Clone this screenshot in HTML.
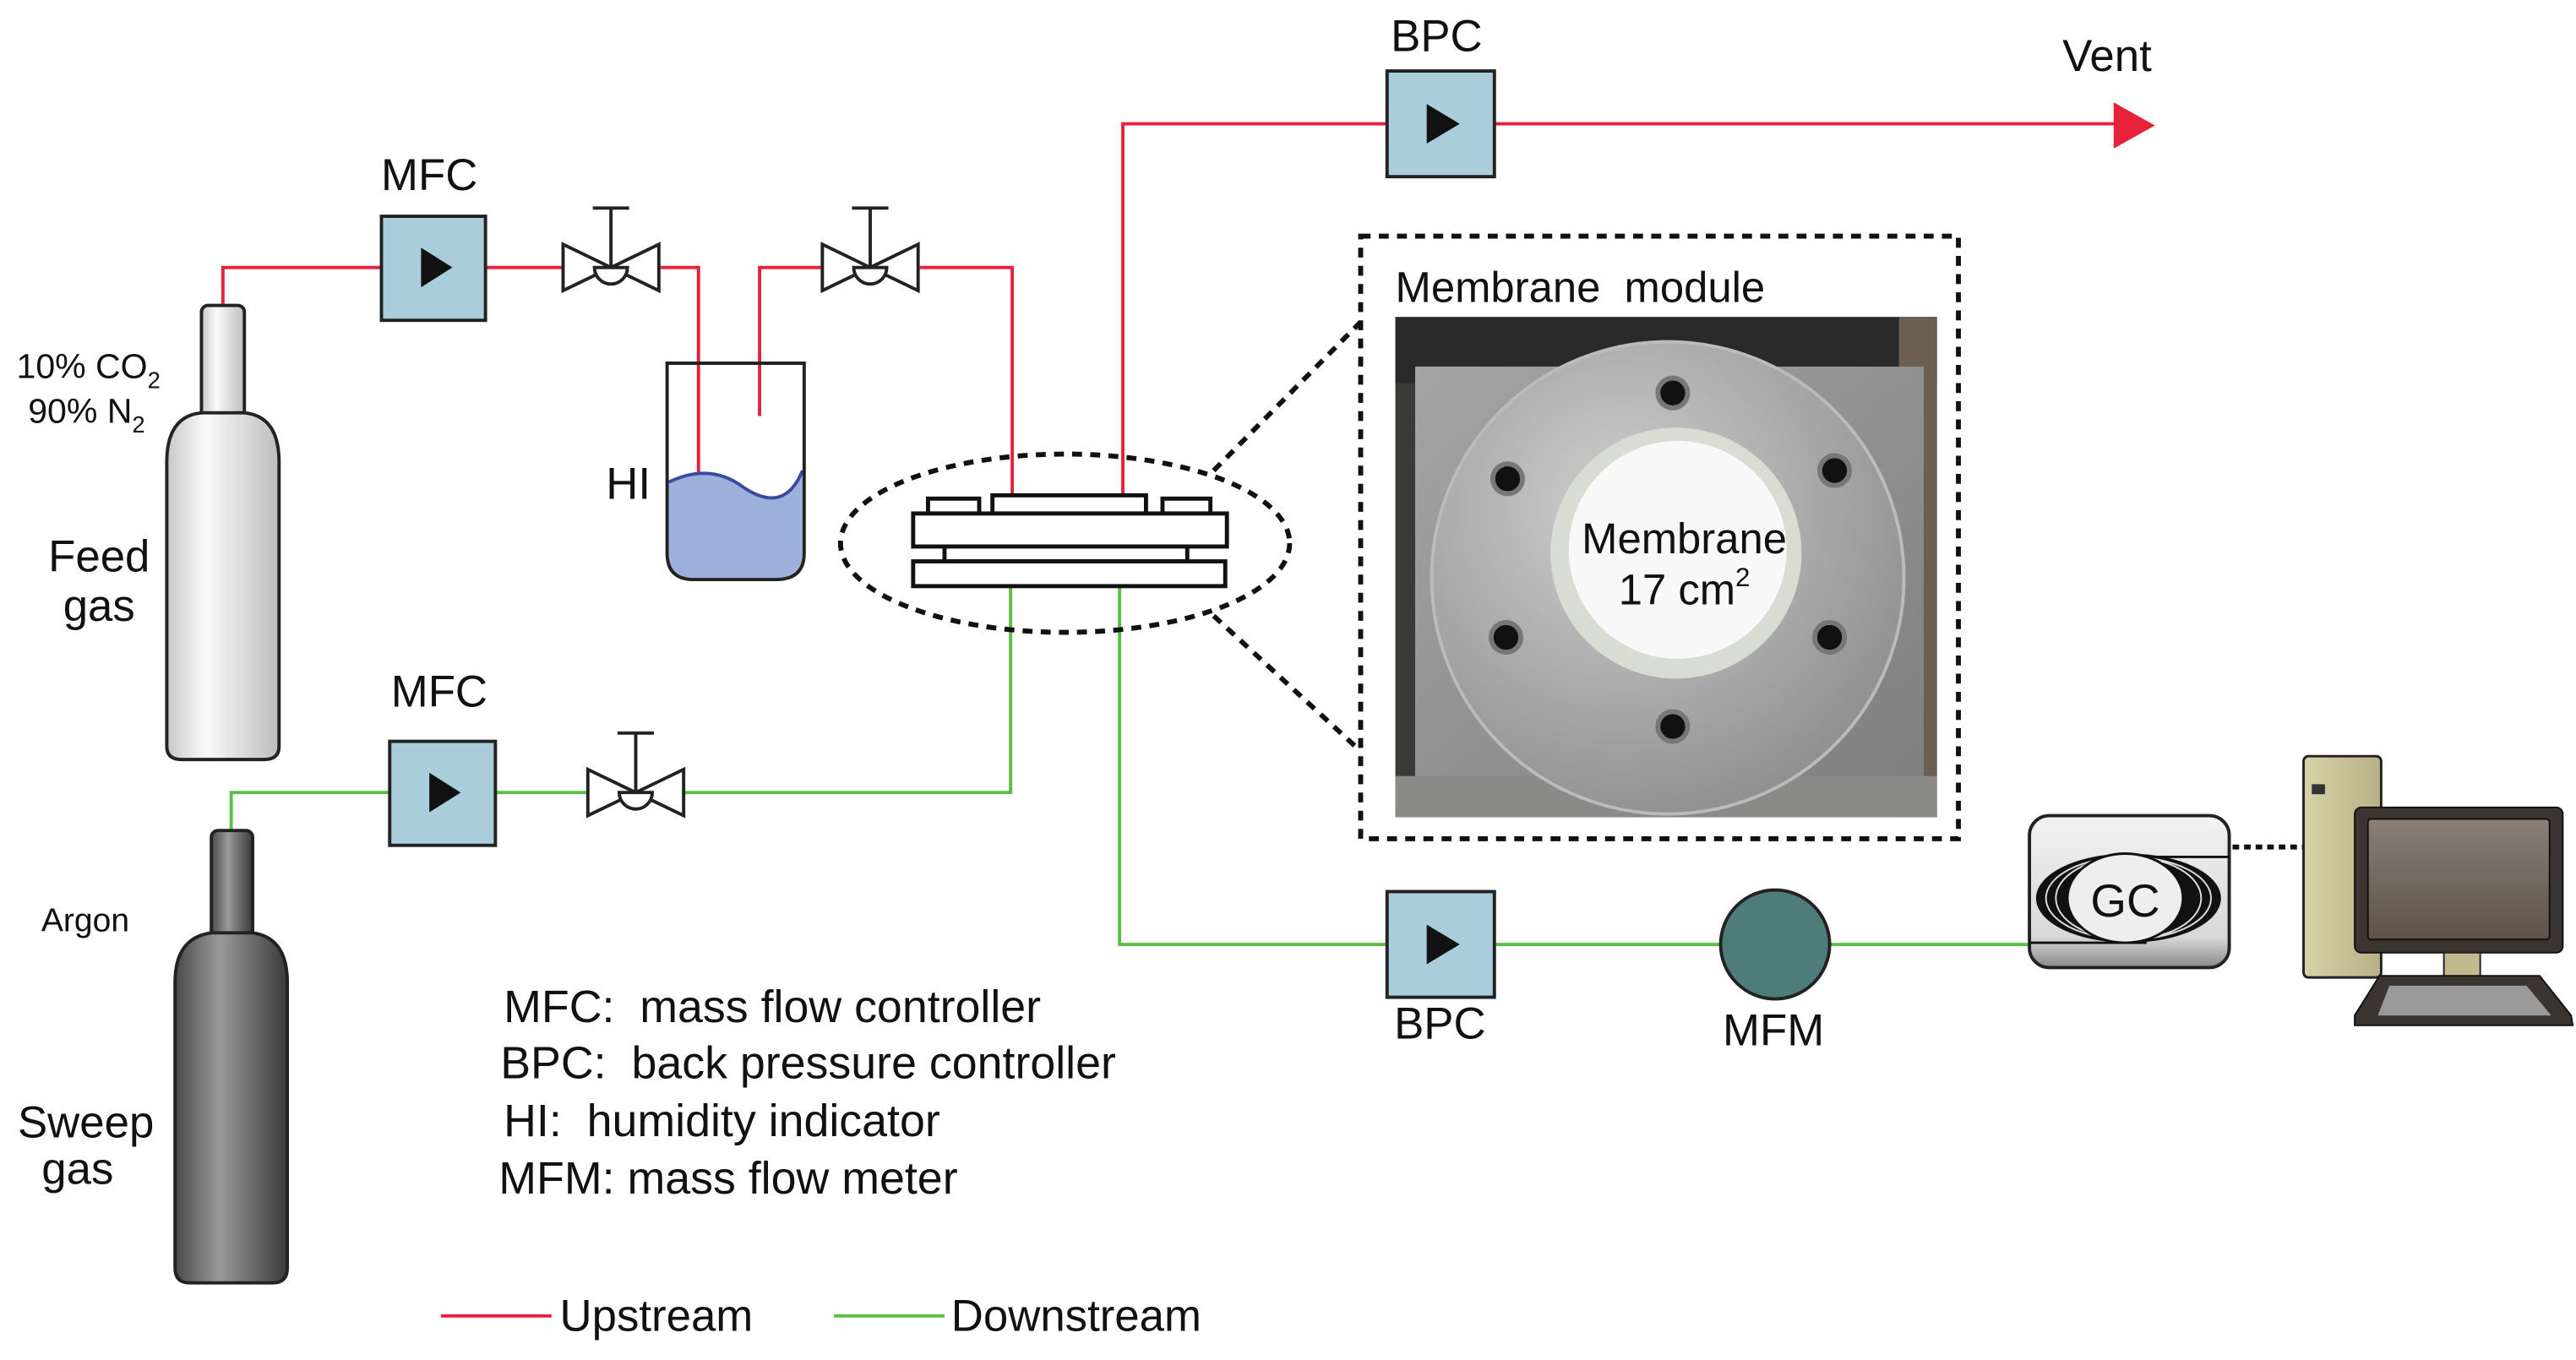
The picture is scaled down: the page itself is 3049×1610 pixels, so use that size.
<!DOCTYPE html>
<html><head><meta charset="utf-8"><style>
html,body{margin:0;padding:0;background:#fff;}
svg{display:block;}
text{font-family:"Liberation Sans",Arial,sans-serif;fill:#111;white-space:pre;}
</style></head><body>
<svg width="3049" height="1610" viewBox="0 0 1560 823.7" preserveAspectRatio="none" xmlns="http://www.w3.org/2000/svg" xml:space="preserve">
<defs>
<linearGradient id="cylA" x1="0" x2="1" y1="0" y2="0">
<stop offset="0" stop-color="#c8c8c8"/><stop offset="0.35" stop-color="#fafafa"/><stop offset="1" stop-color="#bdbdbd"/></linearGradient>
<linearGradient id="cylB" x1="0" x2="1" y1="0" y2="0">
<stop offset="0" stop-color="#4a4a4a"/><stop offset="0.4" stop-color="#9a9a9a"/><stop offset="1" stop-color="#3a3a3a"/></linearGradient>
<linearGradient id="mon" x1="0" x2="0" y1="0" y2="1"><stop offset="0" stop-color="#8a8078"/><stop offset="1" stop-color="#5e5248"/></linearGradient>
<linearGradient id="tower" x1="0" x2="1"><stop offset="0" stop-color="#d8d2a8"/><stop offset="1" stop-color="#b8b088"/></linearGradient>
<radialGradient id="flange" cx="0.4" cy="0.35" r="0.7"><stop offset="0" stop-color="#cfcfcf"/><stop offset="0.6" stop-color="#a8a8a8"/><stop offset="1" stop-color="#8e8e8e"/></radialGradient>
<linearGradient id="plate" x1="0" x2="1" y1="0" y2="1"><stop offset="0" stop-color="#a4a4a4"/><stop offset="1" stop-color="#7e7e7e"/></linearGradient>
<linearGradient id="gcg" x1="0" x2="0" y1="0" y2="1"><stop offset="0" stop-color="#f2f2f2"/><stop offset="0.8" stop-color="#d8d8d8"/><stop offset="1" stop-color="#888"/></linearGradient>
</defs>

<g stroke="#e8213a" stroke-width="2" fill="none">
<polyline points="135,186 135,162 231,162"/>
<polyline points="294,162 341,162"/>
<polyline points="400,162 423,162 423,292"/>
<polyline points="460,252 460,162 497,162"/>
<polyline points="557,162 613,162 613,300"/>
<polyline points="680,300 680,75 840,75"/>
<polyline points="905,75 1285,75"/>
</g>
<polygon points="1280,62 1305,76 1280,90" fill="#e8213a"/>

<g stroke="#5cbf45" stroke-width="2" fill="none">
<polyline points="612,355 612,480 414,480"/>
<polyline points="355,480 300,480"/>
<polyline points="236,480 140,480 140,504"/>
<polyline points="678,355 678,572 840,572"/>
<polyline points="905,572 1042,572"/>
<polyline points="1108,572 1230,572"/>
</g>

<rect x="122" y="185" width="26" height="70" rx="4" fill="url(#cylA)" stroke="#222" stroke-width="2"/>
<path d="M122,250 Q101,252 101,280 L101,452 Q101,460 110,460 L160,460 Q169,460 169,452 L169,280 Q169,252 148,250 Z" fill="url(#cylA)" stroke="#222" stroke-width="2"/>
<rect x="128" y="503" width="25" height="66" rx="4" fill="url(#cylB)" stroke="#222" stroke-width="2"/>
<path d="M128,565 Q106,568 106,595 L106,768 Q106,777 115,777 L165,777 Q174,777 174,768 L174,595 Q174,568 153,565 Z" fill="url(#cylB)" stroke="#222" stroke-width="2"/>

<g stroke="#222" stroke-width="2">
<rect x="231" y="131" width="63" height="63" fill="#a9cddb"/>
<rect x="236" y="449" width="64" height="63" fill="#a9cddb"/>
<rect x="840" y="43" width="65" height="64" fill="#a9cddb"/>
<rect x="840" y="540" width="65" height="64" fill="#a9cddb"/>
</g>
<g fill="#111">
<polygon points="255,150 274,162 255,174"/>
<polygon points="260,468 279,480 260,492"/>
<polygon points="864,63 884,75 864,87"/>
<polygon points="864,560 884,572 864,584"/>
</g>

<g stroke="#222" stroke-width="2" fill="#fff">
<g transform="translate(370,162)"><polygon points="-29,-14 29,14 29,-14 -29,14"/><path d="M-10,0 A10,10 0 0 0 10,0 Z"/><line x1="0" y1="0" x2="0" y2="-36"/><line x1="-11" y1="-36" x2="11" y2="-36"/></g>
<g transform="translate(527,162)"><polygon points="-29,-14 29,14 29,-14 -29,14"/><path d="M-10,0 A10,10 0 0 0 10,0 Z"/><line x1="0" y1="0" x2="0" y2="-36"/><line x1="-11" y1="-36" x2="11" y2="-36"/></g>
<g transform="translate(385,480)"><polygon points="-29,-14 29,14 29,-14 -29,14"/><path d="M-10,0 A10,10 0 0 0 10,0 Z"/><line x1="0" y1="0" x2="0" y2="-36"/><line x1="-11" y1="-36" x2="11" y2="-36"/></g>
</g>

<path d="M405,292 Q430,280 450,295 Q475,312 486,285 L486,335 Q486,350 470,350 L420,350 Q405,350 405,335 Z" fill="#9db0dc"/>
<path d="M405,292 Q430,280 450,295 Q475,312 486,285" fill="none" stroke="#3a4aa0" stroke-width="2"/>
<path d="M404,220 L404,335 Q404,351 420,351 L470,351 Q487,351 487,335 L487,220 Z" fill="none" stroke="#222" stroke-width="2"/>
<line x1="404" y1="220" x2="487" y2="220" stroke="#222" stroke-width="2"/>

<g stroke="#111" stroke-width="2.5" fill="#fff">
<rect x="562" y="302" width="31" height="9"/>
<rect x="601" y="300" width="93" height="11"/>
<rect x="704" y="302" width="29" height="9"/>
<rect x="553" y="311" width="190" height="20"/>
<rect x="572" y="331" width="147" height="9"/>
<rect x="553" y="340" width="189" height="15"/>
</g>
<ellipse cx="645" cy="329" rx="136" ry="54" fill="none" stroke="#111" stroke-width="3" stroke-dasharray="6,5"/>
<line x1="735" y1="285" x2="824" y2="195" stroke="#111" stroke-width="3" stroke-dasharray="6,5"/>
<line x1="735" y1="373" x2="824" y2="455" stroke="#111" stroke-width="3" stroke-dasharray="6,5"/>

<rect x="824" y="143" width="362" height="365" fill="#fff" stroke="#111" stroke-width="3" stroke-dasharray="6,5"/>
<rect x="845" y="192" width="328" height="303" fill="#3a3a38"/>
<rect x="845" y="192" width="328" height="40" fill="#2a2a2a"/>
<rect x="1150" y="192" width="23" height="303" fill="#6a5f50"/>
<rect x="857" y="222" width="308" height="265" fill="url(#plate)"/>
<rect x="845" y="470" width="328" height="25" fill="#8a8a88"/>
<circle cx="1010" cy="350" r="143" fill="url(#flange)" stroke="#bbb" stroke-width="2"/>
<circle cx="1015" cy="335" r="76" fill="#d8dcd2"/>
<circle cx="1016" cy="333" r="66" fill="#f8f8f8"/>
<g fill="#111" stroke="#777" stroke-width="3">
<circle cx="1013" cy="238" r="9"/>
<circle cx="913" cy="290" r="9"/>
<circle cx="1111" cy="285" r="9"/>
<circle cx="912" cy="386" r="9"/>
<circle cx="1108" cy="386" r="9"/>
<circle cx="1013" cy="440" r="9"/>
</g>
<text x="1020" y="335" font-size="26" text-anchor="middle">Membrane</text>
<text x="1020" y="366" font-size="26" text-anchor="middle">17 cm<tspan font-size="16" dy="-11">2</tspan></text>
<text x="845" y="183" font-size="26">Membrane  module</text>

<circle cx="1075" cy="572" r="33" fill="#4e7c7b" stroke="#222" stroke-width="2"/>

<rect x="1229" y="494" width="121" height="92" rx="12" fill="url(#gcg)" stroke="#222" stroke-width="2"/>
<line x1="1229" y1="571" x2="1300" y2="571" stroke="#111" stroke-width="1.5"/>
<line x1="1275" y1="519" x2="1350" y2="519" stroke="#111" stroke-width="1.5"/>
<ellipse cx="1289" cy="544" rx="56" ry="27" fill="#111"/>
<ellipse cx="1289" cy="544" rx="50" ry="25" fill="none" stroke="#ddd" stroke-width="1"/>
<ellipse cx="1289" cy="544" rx="44" ry="25" fill="none" stroke="#ddd" stroke-width="1"/>
<ellipse cx="1287" cy="544" rx="35" ry="27" fill="#eee" stroke="#111" stroke-width="1.5"/>
<text x="1287" y="555" font-size="28" text-anchor="middle">GC</text>
<line x1="1352" y1="513" x2="1395" y2="513" stroke="#111" stroke-width="3" stroke-dasharray="4,3"/>

<rect x="1395" y="458" width="47" height="134" rx="3" fill="url(#tower)" stroke="#222" stroke-width="1.5"/>
<rect x="1400" y="475" width="8" height="6" fill="#333"/>
<rect x="1426" y="489" width="126" height="88" rx="4" fill="#3a3530" stroke="#111" stroke-width="1"/>
<rect x="1434" y="496" width="110" height="73" rx="2" fill="url(#mon)" stroke="#111" stroke-width="1"/>
<rect x="1480" y="577" width="22" height="15" fill="#c2b98e" stroke="#222"/>
<polygon points="1441,591 1538,591 1557,615 1558,621 1426,621 1426,615" fill="#3a3530" stroke="#111"/>
<polygon points="1447,597 1530,597 1545,615 1440,615" fill="#9a9a9a"/>

<text x="260" y="115" font-size="27" text-anchor="middle">MFC</text>
<text x="266" y="428" font-size="27" text-anchor="middle">MFC</text>
<text x="870" y="31" font-size="27" text-anchor="middle">BPC</text>
<text x="872" y="629" font-size="27" text-anchor="middle">BPC</text>
<text x="1074" y="633" font-size="27" text-anchor="middle">MFM</text>
<text x="1276" y="43" font-size="27" text-anchor="middle">Vent</text>
<text x="367" y="302" font-size="27">HI</text>
<text x="10" y="229" font-size="21">10% CO<tspan font-size="14" dy="6">2</tspan></text>
<text x="17" y="256" font-size="21">90% N<tspan font-size="14" dy="6">2</tspan></text>
<text x="60" y="346" font-size="27" text-anchor="middle">Feed</text>
<text x="60" y="376" font-size="27" text-anchor="middle">gas</text>
<text x="25" y="564" font-size="20">Argon</text>
<text x="52" y="689" font-size="27" text-anchor="middle">Sweep</text>
<text x="47" y="717" font-size="27" text-anchor="middle">gas</text>
<text x="305" y="619" font-size="27.5">MFC:  mass flow controller</text>
<text x="303" y="653" font-size="27.5">BPC:  back pressure controller</text>
<text x="305" y="688" font-size="27.5">HI:  humidity indicator</text>
<text x="302" y="723" font-size="27.5">MFM: mass flow meter</text>
<line x1="267" y1="797" x2="334" y2="797" stroke="#e8213a" stroke-width="2"/>
<text x="339" y="806" font-size="27">Upstream</text>
<line x1="505" y1="797" x2="572" y2="797" stroke="#5cbf45" stroke-width="2"/>
<text x="576" y="806" font-size="27">Downstream</text>
</svg>
</body></html>
